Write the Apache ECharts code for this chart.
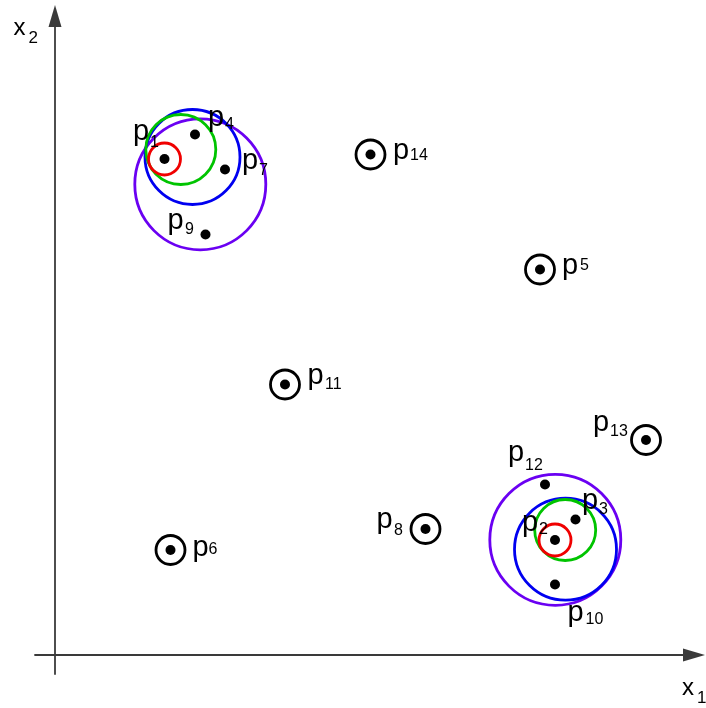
<!DOCTYPE html>
<html>
<head>
<meta charset="utf-8">
<script src="https://cdn.jsdelivr.net/npm/echarts@6/dist/echarts.min.js"></script>
<style>
  html, body { margin: 0; padding: 0; background: #fff; }
  #chart { width: 706px; height: 708px; }
</style>
</head>
<body>
<div id="chart"></div>
<script>
// Points in the (x1, x2) plane
const pointNames = ['p1', 'p2', 'p3', 'p4', 'p5', 'p6', 'p7', 'p8', 'p9', 'p10', 'p11', 'p12', 'p13', 'p14'];
const pointX = [10.95, 50.0, 52.05, 14.0, 48.5, 11.55, 17.0, 37.05, 15.05, 50.0, 23.0, 49.0, 59.1, 31.55];
const pointY = [49.6, 11.5, 13.55, 52.05, 38.55, 10.5, 48.55, 12.6, 42.05, 7.05, 27.05, 17.05, 21.5, 50.05];

// Points that stand alone (drawn with a ring)
const isolatedPoints = ['p5', 'p6', 'p8', 'p11', 'p13', 'p14'];

// Neighbourhood circles: centre, radius and step (0 = smallest .. 3 = largest)
const circleX = [14.53, 13.75, 12.58, 10.95, 50.03, 51.05, 51.02, 50.0];
const circleY = [47.07, 49.8, 50.55, 49.6, 11.52, 10.58, 12.5, 11.5];
const circleR = [6.55, 4.75, 3.5, 1.6, 6.55, 5.1, 3.05, 1.6];
const circleStep = [3, 2, 1, 0, 3, 2, 1, 0];

// Axis names
const xAxisName = ['x', '1'];
const yAxisName = ['x', '2'];

// ---- presentation ----
const stepColors = ['#f00000', '#00c400', '#0000f0', '#6a00f2'];
const FONT = '"Liberation Sans", Arial, sans-serif';
const P_SIZE = 29, SUB_SIZE = 16;
// label placement relative to each point: [p left, p baseline, index left, index baseline] in px
const labelLayout = {
  p1: [-31.5, -25, -14.5, -12.5],
  p2: [-33, -15.5, -16, -6],
  p3: [6.5, -16.5, 23.5, -5.5],
  p4: [13, -15, 30, -5.5],
  p5: [22, -2, 40, 0.5],
  p6: [22, -0.5, 38, 4],
  p7: [17, -7, 34, 5.5],
  p8: [-49, -7, -31.5, 6],
  p9: [-38, -11.5, -20.5, -0.5],
  p10: [12.5, 30, 30.5, 39.5],
  p11: [22.5, -7, 40, 4.5],
  p12: [-37, -29.5, -20, -14.5],
  p13: [-53, -15.5, -36, -4],
  p14: [22.5, -1.5, 39.5, 5.5]
};
// vertical distance from the text anchor to the glyph baseline
const P_BASE = 2, SUB_BASE = 4;

const chart = echarts.init(document.getElementById('chart'), null, { renderer: 'canvas' });

const circleData = circleX.map((x, i) => [x, circleY[i], circleR[i], circleStep[i]]);
const pointData = pointNames.map((n, i) => [pointX[i], pointY[i], isolatedPoints.includes(n) ? 1 : 0, n]);

const axisNameRich = {
  x: { fontFamily: FONT, fontSize: 24, lineHeight: 24, color: '#000', verticalAlign: 'top', padding: [4, 0, 0, 0] },
  s: { fontFamily: FONT, fontSize: 17, lineHeight: 17, color: '#000', verticalAlign: 'top', padding: [18, 0, 0, 3] }
};
const axisLineStyle = { color: '#3a3a3a', width: 1.8 };

chart.setOption({
  animation: false,
  backgroundColor: '#fff',
  grid: { left: 35, right: 12, top: 16, bottom: 34, containLabel: false, outerBoundsMode: 'none' },
  xAxis: {
    type: 'value', min: -2.0, max: 63.9,
    name: '{x|' + xAxisName[0] + '}{s|' + xAxisName[1] + '}',
    nameLocation: 'end', nameGap: -12,
    nameTextStyle: { align: 'left', verticalAlign: 'top', padding: [17, 0, 0, 0], rich: axisNameRich },
    axisLine: { onZero: true, lineStyle: axisLineStyle, symbol: ['none', 'triangle'], symbolSize: [13, 22] },
    axisTick: { show: false }, axisLabel: { show: false }, splitLine: { show: false }
  },
  yAxis: {
    type: 'value', min: -1.9, max: 63.9,
    name: '{x|' + yAxisName[0] + '}{s|' + yAxisName[1] + '}',
    nameLocation: 'end', nameGap: 4,
    nameTextStyle: { align: 'right', verticalAlign: 'top', padding: [0, 17, 0, 0], rich: axisNameRich },
    axisLine: { onZero: true, lineStyle: axisLineStyle, symbol: ['none', 'triangle'], symbolSize: [13, 22] },
    axisTick: { show: false }, axisLabel: { show: false }, splitLine: { show: false }
  },
  series: [
    {
      // neighbourhood circles
      type: 'custom',
      z: 2,
      data: circleData,
      renderItem: (params, api) => {
        const c = api.coord([api.value(0), api.value(1)]);
        const r = api.size([api.value(2), api.value(2)])[0];
        return {
          type: 'circle',
          shape: { cx: c[0], cy: c[1], r: r },
          style: { fill: 'none', stroke: stepColors[api.value(3)], lineWidth: 2.8 }
        };
      }
    },
    {
      // points with their rings
      type: 'custom',
      z: 3,
      data: pointData,
      renderItem: (params, api) => {
        const c = api.coord([api.value(0), api.value(1)]);
        const children = [{
          type: 'circle',
          shape: { cx: c[0], cy: c[1], r: 5 },
          style: { fill: '#000' }
        }];
        if (api.value(2) === 1) {
          children.push({
            type: 'circle',
            shape: { cx: c[0], cy: c[1], r: 14.5 },
            style: { fill: 'none', stroke: '#000', lineWidth: 2.8 }
          });
        }
        return { type: 'group', children: children };
      }
    },
    {
      // point labels p with subscript index
      type: 'custom',
      z: 4,
      data: pointData,
      renderItem: (params, api) => {
        const c = api.coord([api.value(0), api.value(1)]);
        const name = pointNames[params.dataIndex];
        const L = labelLayout[name];
        return {
          type: 'group',
          children: [
            {
              type: 'text',
              style: {
                text: 'p', x: c[0] + L[0], y: c[1] + L[1] - P_BASE,
                fill: '#000', fontSize: P_SIZE, fontFamily: FONT, align: 'left', verticalAlign: 'middle'
              }
            },
            {
              type: 'text',
              style: {
                text: name.slice(1), x: c[0] + L[2], y: c[1] + L[3] - SUB_BASE,
                fill: '#000', fontSize: SUB_SIZE, fontFamily: FONT, align: 'left', verticalAlign: 'middle'
              }
            }
          ]
        };
      }
    }
  ]
});
</script>
</body>
</html>
